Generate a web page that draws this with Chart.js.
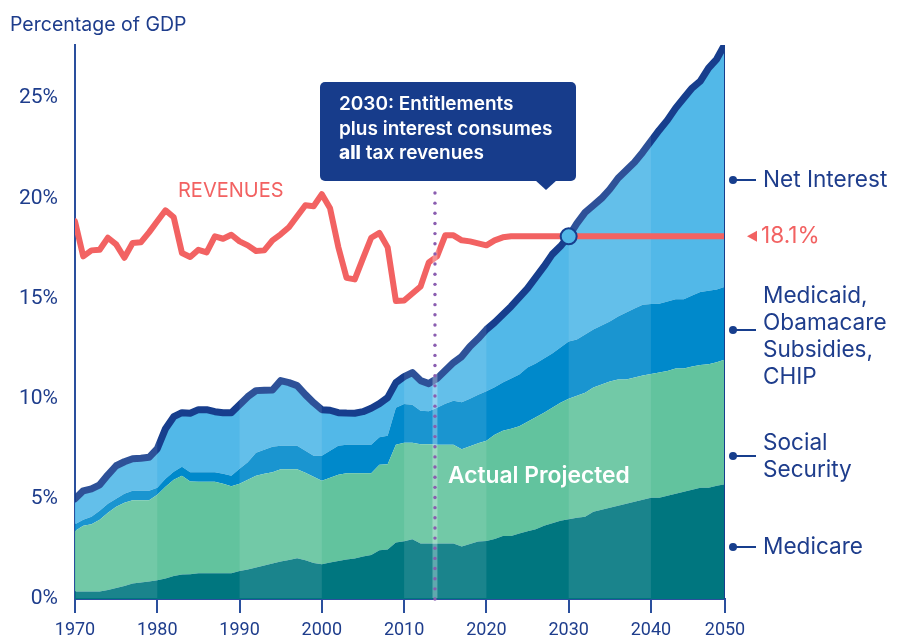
<!DOCTYPE html>
<html>
<head>
<meta charset="utf-8">
<script src="https://cdn.jsdelivr.net/npm/chart.js@4.4.1/dist/chart.umd.min.js"></script>
<style>
  html, body { margin: 0; padding: 0; background: #fff; }
  #wrap { position: relative; width: 897px; height: 643px; }
</style>
</head>
<body>
<div id="wrap"><canvas id="chart" width="897" height="643"></canvas></div>
<script>
/* Federal spending shares, percent of GDP (actual to 2013, projected after) */
const YEARS = [
    1970, 1971, 1972, 1973, 1974, 1975, 1976, 1977, 1978, 1979,
    1980, 1981, 1982, 1983, 1984, 1985, 1986, 1987, 1988, 1989,
    1990, 1991, 1992, 1993, 1994, 1995, 1996, 1997, 1998, 1999,
    2000, 2001, 2002, 2003, 2004, 2005, 2006, 2007, 2008, 2009,
    2010, 2011, 2012, 2013, 2014, 2015, 2016, 2017, 2018, 2019,
    2020, 2021, 2022, 2023, 2024, 2025, 2026, 2027, 2028, 2029,
    2030, 2031, 2032, 2033, 2034, 2035, 2036, 2037, 2038, 2039,
    2040, 2041, 2042, 2043, 2044, 2045, 2046, 2047, 2048, 2049,
];

const medicare = [
    0.37, 0.37, 0.37, 0.37, 0.45, 0.55, 0.65, 0.77, 0.82, 0.87,
    0.93, 1.02, 1.15, 1.22, 1.23, 1.28, 1.28, 1.28, 1.28, 1.28,
    1.40, 1.47, 1.57, 1.67, 1.77, 1.87, 1.95, 2.03, 1.93, 1.80,
    1.73, 1.82, 1.90, 1.97, 2.02, 2.12, 2.20, 2.43, 2.47, 2.82,
    2.88, 2.98, 2.77, 2.77, 2.77, 2.77, 2.77, 2.62, 2.75, 2.87,
    2.90, 3.00, 3.15, 3.15, 3.27, 3.38, 3.48, 3.65, 3.78, 3.90,
    3.98, 4.05, 4.10, 4.35, 4.45, 4.55, 4.65, 4.75, 4.85, 4.95,
    5.05, 5.05, 5.15, 5.25, 5.35, 5.45, 5.55, 5.55, 5.65, 5.73,
];

const socialSecurity = [
    3.03, 3.28, 3.36, 3.58, 3.85, 4.05, 4.15, 4.16, 4.11, 4.06,
    4.27, 4.58, 4.80, 4.93, 4.64, 4.57, 4.57, 4.57, 4.47, 4.35,
    4.35, 4.48, 4.58, 4.58, 4.55, 4.61, 4.53, 4.45, 4.37, 4.30,
    4.17, 4.23, 4.30, 4.30, 4.25, 4.15, 4.07, 4.27, 4.26, 4.88,
    4.92, 4.82, 4.95, 4.95, 4.93, 4.93, 4.93, 4.86, 4.87, 4.90,
    5.00, 5.20, 5.25, 5.35, 5.35, 5.47, 5.59, 5.65, 5.77, 5.90,
    6.02, 6.10, 6.20, 6.20, 6.25, 6.30, 6.31, 6.21, 6.20, 6.20,
    6.18, 6.25, 6.23, 6.25, 6.15, 6.15, 6.13, 6.17, 6.17, 6.22,
];

const medicaid = [
    0.33, 0.30, 0.37, 0.45, 0.45, 0.40, 0.45, 0.47, 0.47, 0.47,
    0.35, 0.40, 0.40, 0.45, 0.45, 0.47, 0.47, 0.47, 0.50, 0.52,
    0.75, 0.87, 1.15, 1.20, 1.28, 1.17, 1.17, 1.17, 1.10, 1.05,
    1.25, 1.35, 1.45, 1.43, 1.43, 1.43, 1.43, 1.37, 1.42, 1.85,
    1.93, 1.90, 1.68, 1.65, 1.85, 2.05, 2.20, 2.34, 2.38, 2.43,
    2.47, 2.37, 2.40, 2.50, 2.58, 2.70, 2.68, 2.70, 2.70, 2.75,
    2.85, 2.80, 2.90, 2.90, 2.95, 3.00, 3.14, 3.34, 3.45, 3.54,
    3.49, 3.44, 3.47, 3.46, 3.46, 3.55, 3.64, 3.66, 3.63, 3.64,
];

const netInterest = [
    1.27, 1.45, 1.40, 1.30, 1.45, 1.65, 1.60, 1.60, 1.63, 1.67,
    1.95, 2.50, 2.75, 2.70, 2.95, 3.13, 3.13, 3.03, 3.05, 3.15,
    3.20, 3.28, 3.10, 2.97, 2.83, 3.25, 3.15, 3.00, 2.80, 2.65,
    2.30, 2.02, 1.65, 1.58, 1.57, 1.65, 1.82, 1.68, 1.90, 1.25,
    1.37, 1.60, 1.50, 1.38, 1.45, 1.65, 1.90, 2.28, 2.60, 2.80,
    3.08, 3.23, 3.40, 3.60, 3.85, 3.95, 4.30, 4.60, 4.95, 5.05,
    5.25, 5.80, 6.10, 6.20, 6.35, 6.60, 6.90, 7.10, 7.30, 7.61,
    8.13, 8.66, 9.05, 9.54, 10.04, 10.35, 10.53, 11.12, 11.50, 12.11,
];

const revenues = [
    18.85, 17.10, 17.40, 17.43, 18.03, 17.70, 17.03, 17.77, 17.80, 18.30,
    18.85, 19.40, 19.05, 17.27, 17.07, 17.43, 17.30, 18.10, 17.98, 18.18,
    17.85, 17.65, 17.37, 17.40, 17.90, 18.20, 18.55, 19.10, 19.65, 19.60,
    20.20, 19.50, 17.57, 16.03, 15.95, 17.00, 18.03, 18.27, 17.55, 14.87,
    14.90, 15.25, 15.60, 16.80, 17.10, 18.15, 18.15, 17.90, 17.85, 17.75,
    17.65, 17.90, 18.05, 18.10, 18.10, 18.10, 18.10, 18.10, 18.10, 18.10,
    18.10, 18.10, 18.10, 18.10, 18.10, 18.10, 18.10, 18.10, 18.10, 18.10,
    18.10, 18.10, 18.10, 18.10, 18.10, 18.10, 18.10, 18.10, 18.10, 18.10,
];

const X_TICKS = [1970, 1980, 1990, 2000, 2010, 2020, 2030, 2040, 2049];
const Y_TICKS = [0, 5, 10, 15, 20, 25];
const CROSSOVER_YEAR = 2030;
const SPLIT_YEAR = 2013.75;
const LIGHT_DECADES = [[1970, 1980], [1990, 2000], [2010, 2020], [2030, 2040]];

const COLORS = {
    navy: "#173e8d",
    text: "#1e3d8c",
    axis: "#2a4f9d",
    red: "#f26262",
    medicare: "#00767f",
    social: "#62c39e",
    medicaid: "#0089cb",
    interest: "#52b8e8",
    box: "#173c8b",
    dots: "#8a5db0",
};

Chart.defaults.font.family = "Inter";

const last = YEARS.length - 1;
const endTotal = medicare[last] + socialSecurity[last] + medicaid[last] + netInterest[last];
const crossIdx = YEARS.indexOf(CROSSOVER_YEAR);

/* Area layers: painted together, stacked from Medicare upward */
function area(data, color, fill, extra = {}) {
    return Object.assign({
        data,
        backgroundColor: color,
        borderWidth: 0,
        pointRadius: 0,
        fill,
        stack: "spending",
        order: 2,
    }, extra);
}

function text(ctx, str, x, y, font, color, align = "left") {
    ctx.font = font;
    ctx.fillStyle = color;
    ctx.textAlign = align;
    ctx.textBaseline = "middle";
    ctx.fillText(str, x, y);
}

const overlays = {
    id: "overlays",
    // Alternate decades are lightened once every area (and the total line) is down
    afterDatasetDraw(chart, args) {
        if (args.index !== 0) return;
        const { ctx, chartArea: a, scales: { x } } = chart;
        ctx.save();
        ctx.fillStyle = "rgba(255, 255, 255, 0.1)";
        LIGHT_DECADES.forEach(([from, to]) => {
            const l = x.getPixelForValue(from) + (from === 1970 ? 1 : 0);
            const r = x.getPixelForValue(to);
            ctx.fillRect(l, a.top - 6, r - l, a.bottom - a.top + 5);
        });
        ctx.restore();
    },
    afterDatasetsDraw(chart) {
        const { ctx, chartArea: a, scales: { x } } = chart;
        ctx.save();
        // actual / projected divider
        const l = x.getPixelForValue(SPLIT_YEAR - 0.3);
        const r = x.getPixelForValue(SPLIT_YEAR + 0.3);
        ctx.fillStyle = "rgba(255, 255, 255, 0.3)";
        ctx.fillRect(l, a.top, r - l, a.bottom - a.top - 1);
        const sx = x.getPixelForValue(SPLIT_YEAR);
        ctx.fillStyle = COLORS.dots;
        for (let y = 193; y <= a.bottom; y += 10.15) {
            ctx.beginPath();
            ctx.arc(sx, y, 1.7, 0, Math.PI * 2);
            ctx.fill();
        }
        text(ctx, "Actual Projected", 448, 476, "600 22.8px Inter", "#ffffff");
        ctx.restore();
    },
    afterDraw(chart) {
        const { ctx, scales: { y } } = chart;
        ctx.save();
        text(ctx, "Percentage of GDP", 10, 25, "400 19.5px Inter", COLORS.text);
        text(ctx, "REVENUES", 178, 191, "400 20px Inter", COLORS.red);

        // callout box
        ctx.fillStyle = COLORS.box;
        ctx.beginPath();
        ctx.roundRect(320, 82, 256, 99, 5);
        ctx.fill();
        ctx.beginPath();
        ctx.moveTo(535, 180);
        ctx.lineTo(557, 180);
        ctx.lineTo(546, 190);
        ctx.closePath();
        ctx.fill();
        const bodyFont = "600 19px Inter";
        text(ctx, "2030: Entitlements", 339, 104, bodyFont, "#ffffff");
        text(ctx, "plus interest consumes", 339, 129, bodyFont, "#ffffff");
        text(ctx, "all", 339, 153, "800 19px Inter", "#ffffff");
        const w = ctx.measureText("all").width;
        text(ctx, " tax revenues", 339 + w, 153, bodyFont, "#ffffff");

        // series labels on the right
        const legend = [
            { dot: 180, lines: ["Net Interest"], top: 180 },
            { dot: 330, lines: ["Medicaid,", "Obamacare", "Subsidies,", "CHIP"], top: 296 },
            { dot: 456, lines: ["Social", "Security"], top: 443 },
            { dot: 547, lines: ["Medicare"], top: 547 },
        ];
        const labelFont = "400 22.6px Inter";
        legend.forEach(item => {
            ctx.strokeStyle = COLORS.navy;
            ctx.lineWidth = 2;
            ctx.beginPath();
            ctx.moveTo(733, item.dot);
            ctx.lineTo(756, item.dot);
            ctx.stroke();
            ctx.fillStyle = COLORS.navy;
            ctx.beginPath();
            ctx.arc(733, item.dot, 4, 0, Math.PI * 2);
            ctx.fill();
            item.lines.forEach((s, i) => text(ctx, s, 763, item.top + i * 27, labelFont, COLORS.text));
        });

        const ry = y.getPixelForValue(revenues[last]);
        ctx.fillStyle = COLORS.red;
        ctx.beginPath();
        ctx.moveTo(747, ry);
        ctx.lineTo(757, ry - 5.5);
        ctx.lineTo(757, ry + 5.5);
        ctx.closePath();
        ctx.fill();
        text(ctx, revenues[last].toFixed(1) + "%", 761, ry, labelFont, COLORS.red);
        ctx.restore();
    },
};

new Chart(document.getElementById("chart"), {
    type: "line",
    data: {
        labels: YEARS,
        datasets: [
            area(medicare, COLORS.medicare, "origin"),
            area(socialSecurity, COLORS.social, "-1"),
            area(medicaid, COLORS.medicaid, "-1"),
            area(netInterest, COLORS.interest, "-1", {
                borderColor: COLORS.navy,
                borderWidth: 7,
                borderCapStyle: "round",
                borderJoinStyle: "round",
            }),
            {
                data: [{ x: YEARS[last], y: 0 }, { x: YEARS[last], y: endTotal }],
                borderColor: COLORS.navy,
                borderWidth: 2,
                pointRadius: 0,
                fill: false,
                stack: "edge",
                order: 1,
            },
            {
                data: revenues,
                borderColor: COLORS.red,
                borderWidth: 6,
                borderCapStyle: "round",
                borderJoinStyle: "round",
                pointRadius: 0,
                fill: false,
                stack: "revenues",
                order: 1,
            },
            {
                data: [{ x: CROSSOVER_YEAR, y: revenues[crossIdx] }],
                showLine: false,
                pointRadius: 8,
                pointBackgroundColor: COLORS.interest,
                pointBorderColor: COLORS.navy,
                pointBorderWidth: 2,
                stack: "crossover",
                order: 0,
            },
        ],
    },
    options: {
        responsive: false,
        animation: false,
        events: [],
        layout: { padding: { left: 0, right: 172, top: 45, bottom: 0 } },
        plugins: {
            legend: { display: false },
            tooltip: { enabled: false },
            filler: { propagate: false },
        },
        scales: {
            x: {
                type: "linear",
                min: 1970,
                max: 2049,
                afterBuildTicks: s => { s.ticks = X_TICKS.map(v => ({ value: v })); },
                afterFit: s => { s.height = 44; },
                border: { display: true, color: COLORS.axis, width: 2 },
                grid: {
                    display: true,
                    drawOnChartArea: false,
                    drawTicks: true,
                    tickLength: 14,
                    color: COLORS.axis,
                    lineWidth: 2,
                },
                ticks: {
                    color: COLORS.text,
                    font: { family: "Roboto", size: 18 },
                    padding: 7,
                    autoSkip: false,
                    maxRotation: 0,
                    callback: v => (v === 2049 ? "2050" : String(v)),
                },
            },
            y: {
                stacked: true,
                min: 0,
                max: 27.65,
                afterBuildTicks: s => { s.ticks = Y_TICKS.map(v => ({ value: v })); },
                afterFit: s => { s.width = 75; },
                border: { display: true, color: COLORS.axis, width: 2 },
                grid: { display: false, drawTicks: false },
                ticks: {
                    color: COLORS.text,
                    font: { family: "Roboto", size: 21 },
                    padding: 17,
                    callback: v => v + "%",
                },
            },
        },
    },
    plugins: [overlays],
});
</script>
</body>
</html>
